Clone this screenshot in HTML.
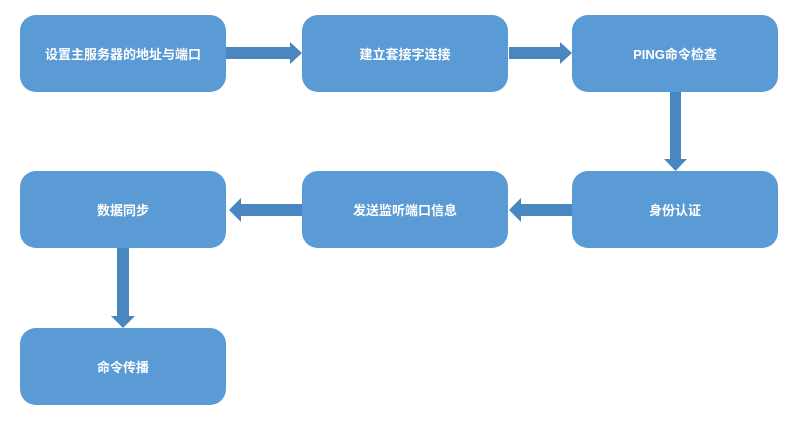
<!DOCTYPE html><html><head><meta charset="utf-8"><style>
body{margin:0;width:804px;height:436px;background:#fff;overflow:hidden;position:relative;font-family:"Liberation Sans","Noto Sans CJK SC",sans-serif}
.b{position:absolute;width:206px;height:77px;background:#5b9bd5;border-radius:16px;color:#fff;font-weight:bold;font-size:13px;display:flex;align-items:center;justify-content:center}
svg{position:absolute;left:0;top:0}
</style></head><body>
<div class="b" style="left:20px;top:15px">设置主服务器的地址与端口</div>
<div class="b" style="left:302px;top:15px">建立套接字连接</div>
<div class="b" style="left:572px;top:15px">PING命令检查</div>
<div class="b" style="left:572px;top:171px">身份认证</div>
<div class="b" style="left:302px;top:171px">发送监听端口信息</div>
<div class="b" style="left:20px;top:171px">数据同步</div>
<div class="b" style="left:20px;top:328px">命令传播</div>
<svg width="804" height="436" fill="#4a86bf">
<polygon points="226,47 290,47 290,42 302,53 290,64 290,59 226,59"/>
<polygon points="509,47 560,47 560,42 572,53 560,64 560,59 509,59"/>
<polygon points="670,92 681,92 681,159 687,159 675.5,171 664,159 670,159"/>
<polygon points="572,204 521,204 521,198 509,210 521,222 521,216 572,216"/>
<polygon points="302,204 241,204 241,198 229,210 241,222 241,216 302,216"/>
<polygon points="117,248 129,248 129,316 135,316 123,328 111,316 117,316"/>
</svg>
</body></html>
